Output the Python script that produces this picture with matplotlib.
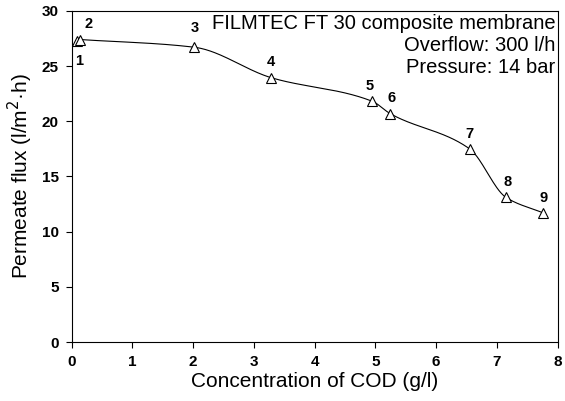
import numpy as np
import matplotlib.pyplot as plt

plt.rcParams['font.family'] = ['Liberation Sans', 'DejaVu Sans']

# measured points (concentration of COD g/l, permeate flux l/m2h)
cod = [0.08, 0.14, 2.02, 3.28, 4.95, 5.24, 6.55, 7.15, 7.76]
flux = [27.3, 27.4, 26.7, 23.95, 21.8, 20.7, 17.5, 13.1, 11.7]
labels = ['1', '2', '3', '4', '5', '6', '7', '8', '9']
info = ['FILMTEC FT 30 composite membrane', 'Overflow: 300 l/h', 'Pressure: 14 bar']


def pchip(x, y, xs):
    # monotone cubic hermite (Fritsch-Carlson)
    x = np.asarray(x, float); y = np.asarray(y, float)
    h = np.diff(x)
    d = np.diff(y) / h
    m = np.zeros_like(y)
    m[0], m[-1] = d[0], d[-1]
    for i in range(1, len(x) - 1):
        if d[i - 1] * d[i] > 0:
            w1 = 2 * h[i] + h[i - 1]
            w2 = h[i] + 2 * h[i - 1]
            m[i] = (w1 + w2) / (w1 / d[i - 1] + w2 / d[i])
    out = np.empty_like(xs)
    for k, t in enumerate(xs):
        i = min(max(np.searchsorted(x, t) - 1, 0), len(x) - 2)
        s = (t - x[i]) / h[i]
        h00 = 2 * s**3 - 3 * s**2 + 1
        h10 = s**3 - 2 * s**2 + s
        h01 = -2 * s**3 + 3 * s**2
        h11 = s**3 - s**2
        out[k] = h00 * y[i] + h10 * h[i] * m[i] + h01 * y[i + 1] + h11 * h[i] * m[i + 1]
    return out


fig = plt.figure(figsize=(5.65, 4.01), dpi=100)
ax = fig.add_axes([0.127, 0.147, 0.860, 0.826])

# smooth curve, point 1 sits on top of point 2
xs = np.linspace(cod[1], cod[-1], 400)
ax.plot(xs, pchip(cod[1:], flux[1:], xs), color='black', lw=0.8)
ax.plot(cod[:2], flux[:2], color='black', lw=0.8)
ax.plot(cod, flux, ls='none', marker='^', ms=7, mfc='white', mec='black', mew=0.8)

# point number offsets (points)
offs = [(2, -20), (6, 6), (0, 9), (0, 6), (-2, 6), (1, 6), (0, 6), (1, 6), (0, 6)]
for x, y, t, o in zip(cod, flux, labels, offs):
    ax.annotate(t, (x, y), xytext=o, textcoords='offset points', ha='center',
                va='bottom', fontsize=10.5, fontweight='bold')

for i, line in enumerate(info):
    ax.text(0.995, 0.962 - i * 0.0665, line, transform=ax.transAxes,
            ha='right', va='center', fontsize=14.5)

ax.set_xlim(0, 8)
ax.set_ylim(0, 30)
ax.set_xticks(range(0, 9))
ax.set_yticks(range(0, 31, 5))
ax.tick_params(direction='out', length=4.5, width=0.8, labelsize=11, pad=5)
for lab in ax.get_xticklabels() + ax.get_yticklabels():
    lab.set_fontweight('bold')
ax.set_xlabel('Concentration of COD (g/l)', fontsize=15, labelpad=2)
ax.set_ylabel('Permeate flux (l/m$^2$·h)', fontsize=15, labelpad=5)
for s in ax.spines.values():
    s.set_linewidth(0.8)

plt.savefig('out.png', dpi=100)
